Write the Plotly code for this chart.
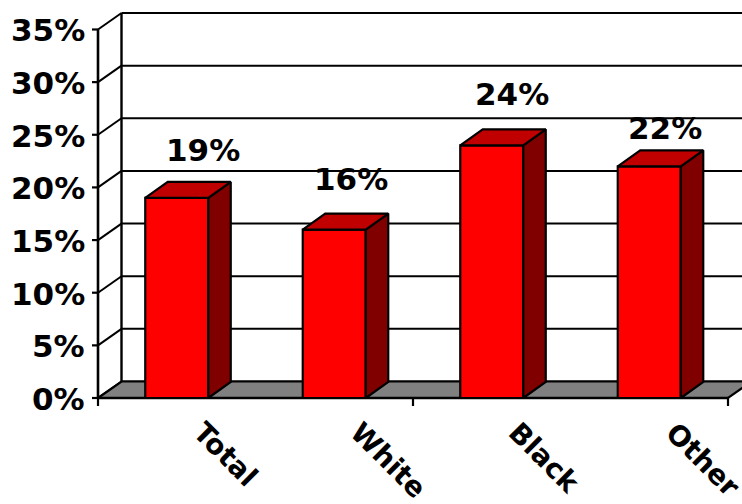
import plotly.graph_objects as go

# ---- data -------------------------------------------------------------
categories = ["Total", "White", "Black", "Other"]
values = [19, 16, 24, 22]                      # percent
value_labels = ["19%", "16%", "24%", "22%"]
y_ticks = [0, 5, 10, 15, 20, 25, 30, 35]
y_tick_labels = ["0%", "5%", "10%", "15%", "20%", "25%", "30%", "35%"]

# ---- geometry (pixel scale of the data axes) ---------------------------
W, H = 742, 504
PX_X = 157.5          # pixels per category
PX_Y = 10.529         # pixels per percent
X0_PX, Y0_PX = 98, 398  # where the front axes meet
Y_MAX = 35

# depth of the 3-D box (wall) and of the columns, in pixels
WALL_DX, WALL_DY = 23.5, 16.5
BAR_DX, BAR_DY = 22.5, 16.0
BAR_W = 0.4           # column width in category units

wdx, wdy = WALL_DX / PX_X, WALL_DY / PX_Y
bdx, bdy = BAR_DX / PX_X, BAR_DY / PX_Y

x_left = -0.5
x_right = len(categories) - 0.5
x_range = [x_left - X0_PX / PX_X, x_left + (W - X0_PX) / PX_X]
y_range = [-(H - Y0_PX) / PX_Y, Y0_PX / PX_Y]

FRONT = "#FF0000"
TOP = "#C00000"
SIDE = "#800000"
FLOOR = "#808080"
FONT = "DejaVu Sans, Verdana, sans-serif"

fig = go.Figure()
shapes = []


def line(x0, y0, x1, y1, width=2.0):
    shapes.append(dict(type="line", xref="x", yref="y", x0=x0, y0=y0, x1=x1, y1=y1,
                       line=dict(color="black", width=width), layer="below"))


# back wall gridlines and the left wall diagonals
for t in y_ticks:
    line(x_left + wdx, t + wdy, x_right + wdx, t + wdy, 2.2 if t == Y_MAX else 2.0)
    line(x_left, t, x_left + wdx, t + wdy, 2.0)
line(x_left + wdx, wdy, x_left + wdx, Y_MAX + wdy, 2.4)

# floor
fig.add_trace(go.Scatter(
    x=[x_left, x_right, x_right + wdx, x_left + wdx, x_left],
    y=[0, 0, wdy, wdy, 0],
    mode="lines", fill="toself", fillcolor=FLOOR,
    line=dict(color="black", width=2.2), hoverinfo="skip", showlegend=False))

# front value axis with outside ticks
fig.add_trace(go.Scatter(x=[x_left, x_left], y=[0, Y_MAX], mode="lines",
                         line=dict(color="black", width=2.6),
                         hoverinfo="skip", showlegend=False))
for t in y_ticks:
    fig.add_trace(go.Scatter(x=[x_left - 6 / PX_X, x_left], y=[t, t], mode="lines",
                             line=dict(color="black", width=2.2),
                             hoverinfo="skip", showlegend=False))

# category axis line and ticks every second category
fig.add_trace(go.Scatter(x=[x_left, x_right], y=[0, 0], mode="lines",
                         line=dict(color="black", width=2.6),
                         hoverinfo="skip", showlegend=False))
for k in range(0, len(categories) + 1, 2):
    xb = x_left + k
    fig.add_trace(go.Scatter(x=[xb, xb], y=[0, -8 / PX_Y], mode="lines",
                             line=dict(color="black", width=2.2),
                             hoverinfo="skip", showlegend=False))


def face(xs, ys, color):
    fig.add_trace(go.Scatter(x=xs + [xs[0]], y=ys + [ys[0]], mode="lines",
                             fill="toself", fillcolor=color,
                             line=dict(color="black", width=2.2),
                             hoverinfo="skip", showlegend=False))


# 3-D columns
for i, v in enumerate(values):
    l, r = i - BAR_W / 2, i + BAR_W / 2
    face([l, r, r, l], [0, 0, v, v], FRONT)
    face([r, r + bdx, r + bdx, r], [0, bdy, v + bdy, v], SIDE)
    face([l, r, r + bdx, l + bdx], [v, v, v + bdy, v + bdy], TOP)

annotations = []
# value labels above the columns (pixel nudges)
label_shift = [(26, 48), (17, 51), (20, 51), (16, 38)]
for i, (v, txt) in enumerate(zip(values, value_labels)):
    dx, dy = label_shift[i]
    annotations.append(dict(x=i, y=v, xref="x", yref="y", text="<b>%s</b>" % txt,
                            showarrow=False, xanchor="center", yanchor="middle",
                            xshift=dx, yshift=dy,
                            font=dict(family=FONT, size=31, color="black")))

# value axis tick labels
for t, txt in zip(y_ticks, y_tick_labels):
    annotations.append(dict(x=x_left, y=t, xref="x", yref="y", text="<b>%s</b>" % txt,
                            showarrow=False, xanchor="right", yanchor="middle",
                            xshift=-11, yshift=-1,
                            font=dict(family=FONT, size=31, color="black")))

# rotated category labels
for i, c in enumerate(categories):
    annotations.append(dict(x=i, y=0, xref="x", yref="y", text="<b>%s</b>" % c,
                            showarrow=False, textangle=45, xanchor="left", yanchor="top",
                            xshift=7, yshift=-15,
                            font=dict(family=FONT, size=28, color="black")))

fig.update_layout(
    width=W, height=H,
    margin=dict(l=0, r=0, t=0, b=0),
    paper_bgcolor="white", plot_bgcolor="white",
    xaxis=dict(range=x_range, visible=False, fixedrange=True),
    yaxis=dict(range=y_range, visible=False, fixedrange=True),
    shapes=shapes, annotations=annotations, showlegend=False,
)

fig.write_html("out.html")
